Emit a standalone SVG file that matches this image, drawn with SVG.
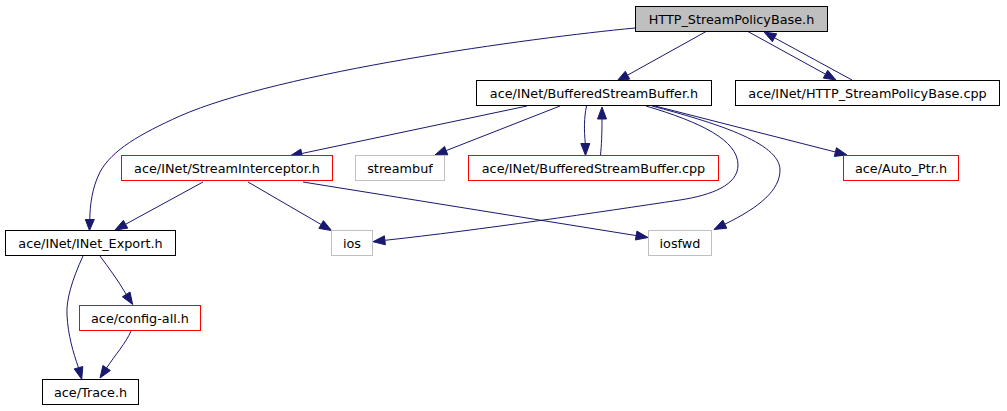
<svg xmlns="http://www.w3.org/2000/svg" width="1007" height="411" viewBox="0 0 1007 411">
<style>
.n rect{fill:#ffffff;stroke:#000000;stroke-width:1}
.n.red rect{stroke:#ff0000}
.n.grey rect{stroke:#bfbfbf}
.n.root rect{fill:#bfbfbf}
.n text{font-family:"DejaVu Sans",sans-serif;font-size:12.8px;fill:#000000;text-anchor:middle}
#edges path{fill:none;stroke:#191970;stroke-width:1}
#edges polygon{fill:#191970;stroke:#191970;stroke-width:1}
</style>
<rect x="0" y="0" width="1007" height="411" fill="#ffffff"/>
<g id="edges">
<path d="M707,31 L627.5,75.2"/><polygon points="617,81 625.3,71.2 629.7,79.1"/>
<path d="M747,31 L825.5,74.2"/><polygon points="836,80 823.3,78.1 827.7,70.3"/>
<path d="M852,80 L774.5,37.8"/><polygon points="764,32 776.7,33.8 772.4,41.7"/>
<path d="M635,28 C530,38 280,72 180,116 C140,134 112,150 100,172 C92,188 90,205 89.8,219.5"/><polygon points="89.5,230.5 85.3,219.5 94.3,219.5"/>
<path d="M527,106 L301.7,153.5"/><polygon points="290,156 300.8,149.1 302.6,157.9"/>
<path d="M560,106 L446.2,150.6"/><polygon points="435,155 444.5,146.4 447.8,154.8"/>
<path d="M586.5,106 C584,118 584,130 585.3,143.5"/><polygon points="585.5,155.5 580.8,143.5 589.8,143.5"/>
<path d="M600.5,155 C601.5,145 602,135 602,119"/><polygon points="602,107 597.5,119 606.5,119"/>
<path d="M646,106 C700,122 738,140 738,165 C738,185 712,195 680,200 C600,212 480,230 384.9,240.3"/><polygon points="373,241.7 384.4,235.8 385.4,244.8"/>
<path d="M652,106 C712,122 780,142 780,170 C780,190 760,207 724.8,224.2"/><polygon points="714,229.5 722.8,220.1 726.8,228.2"/>
<path d="M655,106 L835.4,152"/><polygon points="847,155 834.3,156.4 836.5,147.7"/>
<path d="M203,182 L125.5,224.3"/><polygon points="115,230 123.4,220.3 127.7,228.2"/>
<path d="M248,182 L321.1,224.5"/><polygon points="331.5,230.5 318.9,228.4 323.4,220.6"/>
<path d="M303,182 L636.2,235.6"/><polygon points="648,237.5 635.4,240 636.9,231.1"/>
<path d="M100,256 C108,267 118,280 126.2,294.4"/><polygon points="132.7,304.5 122.4,296.8 130,292"/>
<path d="M83,256 C72,280 66,300 67,315 C68,335 73,352 78.5,367.7"/><polygon points="81.7,379.3 74.2,368.9 82.8,366.5"/>
<path d="M131,331 C126,343 115,355 106.6,368"/><polygon points="100,378 102.9,365.5 110.4,370.5"/>
</g>
<g id="node-http-h" class="n root"><rect x="635.5" y="6.5" width="192" height="25"/><text x="731.5" y="23.5">HTTP_StreamPolicyBase.h</text></g>
<g id="node-http-cpp" class="n"><rect x="735.5" y="80.5" width="264" height="25"/><text x="867.5" y="97.5">ace/INet/HTTP_StreamPolicyBase.cpp</text></g>
<g id="node-bsb-h" class="n"><rect x="476.5" y="80.5" width="235" height="25"/><text x="594" y="97.5">ace/INet/BufferedStreamBuffer.h</text></g>
<g id="node-bsb-cpp" class="n red"><rect x="468.5" y="155.5" width="250" height="25"/><text x="593.5" y="172.5">ace/INet/BufferedStreamBuffer.cpp</text></g>
<g id="node-si-h" class="n red"><rect x="121.5" y="155.5" width="211" height="25"/><text x="227" y="172.5">ace/INet/StreamInterceptor.h</text></g>
<g id="node-streambuf" class="n grey"><rect x="355.5" y="155.5" width="89" height="25"/><text x="400" y="172.5">streambuf</text></g>
<g id="node-autoptr" class="n red"><rect x="843.5" y="155.5" width="115" height="25"/><text x="901" y="172.5">ace/Auto_Ptr.h</text></g>
<g id="node-inet-export" class="n"><rect x="5.5" y="230.5" width="170" height="25"/><text x="90.5" y="247.5">ace/INet/INet_Export.h</text></g>
<g id="node-ios" class="n grey"><rect x="331.5" y="230.5" width="41" height="25"/><text x="352" y="247.5">ios</text></g>
<g id="node-iosfwd" class="n grey"><rect x="648.5" y="230.5" width="63" height="25"/><text x="680" y="247.5">iosfwd</text></g>
<g id="node-config-all" class="n red"><rect x="79.5" y="305.5" width="121" height="25"/><text x="140" y="322.5">ace/config-all.h</text></g>
<g id="node-trace" class="n"><rect x="42.5" y="379.5" width="96" height="25"/><text x="90.5" y="396.5">ace/Trace.h</text></g>
</svg>
